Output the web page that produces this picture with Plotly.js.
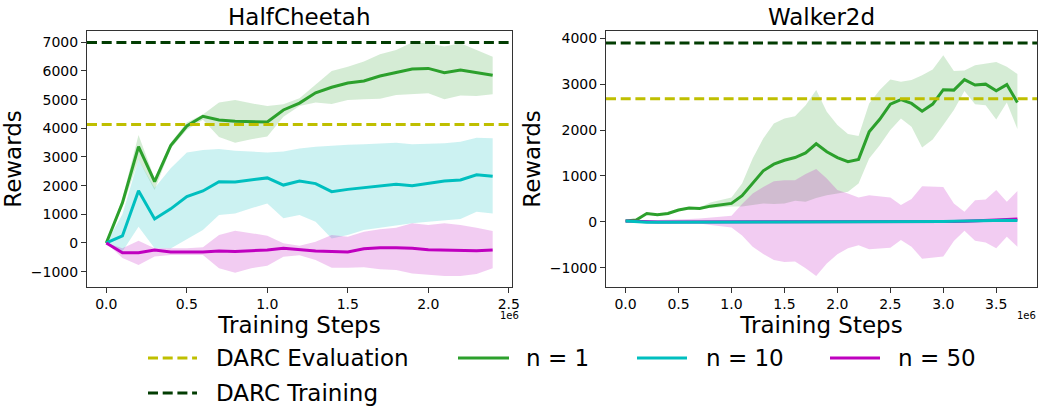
<!DOCTYPE html>
<html>
<head>
<meta charset="utf-8">
<script src="https://cdn.plot.ly/plotly-3.0.1.min.js"></script>
<style>html,body{margin:0;padding:0;background:#fff;}#chart{width:1038px;height:408px;}</style>
</head>
<body>
<div id="chart"></div>
<script>
// ---------- DATA ----------
// Training steps (x 1e6)
var hcSteps = [0.0, 0.1, 0.2, 0.3, 0.4, 0.5, 0.6, 0.7, 0.8, 0.9, 1.0, 1.1, 1.2, 1.3, 1.4, 1.5, 1.6, 1.7, 1.8, 1.9, 2.0, 2.1, 2.2, 2.3, 2.4];
var wkSteps = [0.0, 0.1, 0.2, 0.3, 0.4, 0.5, 0.6, 0.7, 0.8, 0.9, 1.0, 1.1, 1.2, 1.3, 1.4, 1.5, 1.6, 1.7, 1.8, 1.9, 2.0, 2.1, 2.2, 2.3, 2.4, 2.5, 2.6, 2.7, 2.8, 2.9, 3.0, 3.1, 3.2, 3.3, 3.4, 3.5, 3.6, 3.7];

// HalfCheetah
var hcN1   = [0, 1400, 3360, 2140, 3395, 4080, 4420, 4290, 4244, 4220, 4220, 4640, 4880, 5240, 5430, 5580, 5650, 5825, 5940, 6070, 6090, 5940, 6035, 5940, 5850];
var hcN1Hi = [0, 1550, 3770, 2250, 3500, 4200, 4480, 4900, 4990, 4870, 4780, 4840, 5050, 5510, 6000, 6150, 6330, 6580, 6730, 6990, 6965, 6850, 6965, 6730, 6500];
var hcN1Lo = [0, 1250, 2900, 1850, 3300, 3950, 4300, 3700, 3500, 3620, 3710, 4400, 4780, 4900, 4850, 4990, 5010, 5035, 5160, 5190, 5220, 5010, 5140, 5130, 5190];

var hcN10   = [0, 245, 1825, 840, 1190, 1620, 1815, 2140, 2130, 2200, 2270, 2020, 2160, 2070, 1790, 1870, 1930, 1990, 2050, 2000, 2090, 2160, 2200, 2380, 2330];
var hcN10Hi = [0, 1000, 2900, 1920, 2610, 3160, 3240, 3280, 3220, 3190, 3160, 3190, 3300, 3360, 3400, 3430, 3440, 3480, 3500, 3440, 3450, 3480, 3530, 3670, 3650];
var hcN10Lo = [0, -300, 570, -180, -190, 130, 450, 980, 1030, 1210, 1380, 860, 980, 745, 160, 280, 450, 535, 615, 685, 745, 800, 840, 1090, 1030];

var hcN50   = [0, -340, -340, -245, -315, -325, -315, -280, -300, -270, -245, -185, -245, -280, -300, -315, -200, -165, -165, -185, -235, -245, -270, -270, -245];
var hcN50Hi = [0, -180, 80, -180, -180, -180, -150, 280, 430, 340, 255, -10, -100, 45, 280, 220, 395, 475, 535, 685, 630, 685, 630, 535, 420];
var hcN50Lo = [0, -520, -770, -475, -420, -420, -420, -880, -1035, -880, -790, -480, -430, -590, -860, -860, -850, -920, -940, -1060, -1115, -1150, -1150, -1080, -880];

// Walker2d
var wkN1   = [15, 36, 180, 150, 180, 255, 300, 290, 340, 370, 400, 570, 835, 1110, 1255, 1340, 1400, 1500, 1700, 1525, 1400, 1310, 1360, 1960, 2235, 2565, 2665, 2580, 2410, 2565, 2880, 2870, 3100, 2980, 3000, 2855, 2990, 2600];
var wkN1Hi = [15, 45, 200, 170, 200, 275, 320, 310, 420, 470, 530, 835, 1380, 1815, 2140, 2250, 2300, 2540, 2870, 2400, 2110, 1915, 1870, 2580, 2870, 3100, 3050, 3090, 3195, 3320, 3630, 3285, 3300, 3410, 3450, 3485, 3380, 3220];
var wkN1Lo = [15, 28, 160, 130, 160, 235, 280, 275, 300, 320, 330, 330, 365, 400, 385, 400, 460, 435, 520, 580, 615, 655, 835, 1380, 1670, 2000, 2250, 2070, 1620, 1795, 2110, 2435, 2850, 2560, 2540, 2230, 2600, 2020];

var wkN10   = [15, -5, -10, -10, -8, -5, -5, -5, -5, -5, -5, -5, -5, -5, -5, -5, -8, -10, -10, -8, -5, -5, -5, 0, 0, 0, -5, -5, -5, 0, 5, 10, 15, 20, 25, 35, 30, 25];
var wkN10Hi = [15, 10, 5, 5, 8, 10, 10, 10, 10, 10, 10, 12, 15, 15, 15, 15, 12, 10, 10, 12, 15, 15, 15, 20, 20, 20, 15, 15, 15, 20, 25, 30, 35, 40, 45, 55, 50, 45];
var wkN10Lo = [15, -20, -25, -25, -23, -20, -20, -20, -20, -20, -20, -22, -25, -25, -25, -25, -28, -30, -30, -28, -25, -25, -25, -20, -20, -20, -25, -25, -25, -20, -15, -10, -5, 0, 5, 15, 10, 5];

var wkN50   = [15, 5, 0, -5, -5, -5, -5, -5, -5, -5, -5, -8, -10, -10, -10, -10, -10, -10, -10, -10, -10, -8, -5, -5, -5, -5, -5, -5, -5, -5, 0, 5, 10, 15, 25, 40, 50, 60];
var wkN50Hi = [15, 20, 30, 30, 40, 50, 60, 70, 90, 120, 130, 385, 615, 760, 885, 905, 905, 1040, 1150, 945, 690, 615, 530, 580, 560, 530, 365, 495, 775, 760, 760, 400, 220, 470, 485, 690, 435, 670];
var wkN50Lo = [15, -30, -30, -20, -20, -30, -30, -40, -70, -100, -125, -300, -545, -705, -835, -880, -865, -1015, -1185, -910, -710, -580, -510, -600, -580, -565, -400, -545, -805, -775, -760, -420, -195, -415, -450, -580, -325, -545];

// DARC reference levels [HalfCheetah, Walker2d]
var darcEval  = [4130, 2680];
var darcTrain = [6990, 3900];

// Labels
var envNames = ['HalfCheetah', 'Walker2d'];
var seriesNames = ['n = 1', 'n = 10', 'n = 50'];
var refNames = ['DARC Evaluation', 'DARC Training'];
var hcTickVals = [0, 0.5, 1.0, 1.5, 2.0, 2.5];
var hcTickText = ['0.0', '0.5', '1.0', '1.5', '2.0', '2.5'];
var wkTickVals = [0, 0.5, 1.0, 1.5, 2.0, 2.5, 3.0, 3.5];
var wkTickText = ['0.0', '0.5', '1.0', '1.5', '2.0', '2.5', '3.0', '3.5'];
var hcYVals = [-1000, 0, 1000, 2000, 3000, 4000, 5000, 6000, 7000];
var hcYText = ['\u22121000', '0', '1000', '2000', '3000', '4000', '5000', '6000', '7000'];
var wkYVals = [-1000, 0, 1000, 2000, 3000, 4000];
var wkYText = ['\u22121000', '0', '1000', '2000', '3000', '4000'];

// ---------- STYLE ----------
var colors = ['#2ca02c', '#00bfbf', '#bf00bf'];
var fills = ['rgba(44,160,44,0.2)', 'rgba(0,191,191,0.2)', 'rgba(191,0,191,0.2)'];
var evalColor = '#bfbf00';
var trainColor = '#023d02';
var FONT = 'DejaVu Sans';

var traces = [];
function addBand(x, hi, lo, fc, xa, ya) {
  traces.push({x: x, y: hi, type: 'scatter', mode: 'lines', line: {width: 0, color: fc}, xaxis: xa, yaxis: ya, showlegend: false, hoverinfo: 'skip'});
  traces.push({x: x, y: lo, type: 'scatter', mode: 'lines', line: {width: 0, color: fc}, fill: 'tonexty', fillcolor: fc, xaxis: xa, yaxis: ya, showlegend: false, hoverinfo: 'skip'});
}
function addLine(x, y, c, name, xa, ya) {
  traces.push({x: x, y: y, type: 'scatter', mode: 'lines', line: {width: 3, color: c}, name: name, xaxis: xa, yaxis: ya, showlegend: false});
}
var hcSets = [[hcN1, hcN1Hi, hcN1Lo], [hcN10, hcN10Hi, hcN10Lo], [hcN50, hcN50Hi, hcN50Lo]];
var wkSets = [[wkN1, wkN1Hi, wkN1Lo], [wkN10, wkN10Hi, wkN10Lo], [wkN50, wkN50Hi, wkN50Lo]];
for (var i = 0; i < 3; i++) addBand(hcSteps, hcSets[i][1], hcSets[i][2], fills[i], 'x', 'y');
for (var i = 0; i < 3; i++) addBand(wkSteps, wkSets[i][1], wkSets[i][2], fills[i], 'x2', 'y2');
for (var i = 0; i < 3; i++) addLine(hcSteps, hcSets[i][0], colors[i], seriesNames[i], 'x', 'y');
var wkOrder = [0, 2, 1];
for (var j = 0; j < 3; j++) { var i = wkOrder[j]; addLine(wkSteps, wkSets[i][0], colors[i], seriesNames[i], 'x2', 'y2'); }

// ---------- LAYOUT ----------
var L = 87, R = 1037, T = 31, B = 287, W = 1038, H = 408;
function px(x) { return (x - L) / (R - L); }
function py(y) { return (B - y) / (B - T); }

var shapes = [];
var axIds = [['x', 'y'], ['x2', 'y2']];
for (var k = 0; k < 2; k++) {
  shapes.push({type: 'line', xref: axIds[k][0] + ' domain', yref: axIds[k][1], x0: 0, x1: 1, y0: darcEval[k], y1: darcEval[k], line: {color: evalColor, width: 3, dash: '10px,4.7px'}, layer: 'above'});
  shapes.push({type: 'line', xref: axIds[k][0] + ' domain', yref: axIds[k][1], x0: 0, x1: 1, y0: darcTrain[k], y1: darcTrain[k], line: {color: trainColor, width: 3, dash: '10px,4.7px'}, layer: 'above'});
}

// legend (manual, matplotlib column-major layout)
var legItems = [
  {name: refNames[0], color: evalColor, dash: '10px,4.7px', x0: 148, x1: 197, tx: 214, y: 358},
  {name: refNames[1], color: trainColor, dash: '10px,4.7px', x0: 148, x1: 197, tx: 214, y: 393},
  {name: seriesNames[0], color: colors[0], dash: 'solid', x0: 458, x1: 509, tx: 524, y: 358},
  {name: seriesNames[1], color: colors[1], dash: 'solid', x0: 637, x1: 687, tx: 704, y: 358},
  {name: seriesNames[2], color: colors[2], dash: 'solid', x0: 830, x1: 880, tx: 896, y: 358}
];
var annotations = [];
legItems.forEach(function (it) {
  shapes.push({type: 'line', xref: 'paper', yref: 'paper', x0: px(it.x0), x1: px(it.x1), y0: py(it.y), y1: py(it.y), line: {color: it.color, width: 3, dash: it.dash}});
  annotations.push({xref: 'paper', yref: 'paper', x: px(it.tx), y: py(it.y), xanchor: 'left', yanchor: 'middle', text: it.name, showarrow: false, font: {family: FONT, size: 23, color: '#000'}});
});

// subplot titles
annotations.push({xref: 'paper', yref: 'paper', x: px(299.5), y: py(17), xanchor: 'center', yanchor: 'middle', text: envNames[0], showarrow: false, font: {family: FONT, size: 23, color: '#000'}});
annotations.push({xref: 'paper', yref: 'paper', x: px(821.5), y: py(17), xanchor: 'center', yanchor: 'middle', text: envNames[1], showarrow: false, font: {family: FONT, size: 23, color: '#000'}});
// offset texts
annotations.push({xref: 'paper', yref: 'paper', x: px(521), y: py(315), xanchor: 'right', yanchor: 'middle', text: '1e6', showarrow: false, font: {family: FONT, size: 10, color: '#000'}});
annotations.push({xref: 'paper', yref: 'paper', x: px(1038), y: py(315), xanchor: 'right', yanchor: 'middle', text: '1e6', showarrow: false, font: {family: FONT, size: 10, color: '#000'}});

var axBase = {
  showgrid: false, zeroline: false, showline: true, mirror: true, linecolor: '#333', linewidth: 1,
  ticks: 'outside', ticklen: 5, tickwidth: 1, tickcolor: '#333',
  tickfont: {family: FONT, size: 14, color: '#000'}, automargin: false
};
function ax(extra) { return Object.assign({}, axBase, extra); }

var layout = {
  width: W, height: H,
  margin: {l: L, r: W - R, t: T, b: H - B, pad: 0},
  paper_bgcolor: '#fff', plot_bgcolor: '#fff',
  font: {family: FONT, color: '#000'},
  showlegend: false,
  xaxis: ax({domain: [0, px(512)], range: [-0.12, 2.52], tickmode: 'array', tickvals: hcTickVals, ticktext: hcTickText, anchor: 'y', ticklabelstandoff: -1,
    title: {text: 'Training Steps', font: {family: FONT, size: 23, color: '#000'}, standoff: 0}}),
  yaxis: ax({domain: [0, 1], range: [-1535, 7394], tickmode: 'array', tickvals: hcYVals, ticktext: hcYText, anchor: 'x',
    title: {text: 'Rewards', font: {family: FONT, size: 23, color: '#000'}, standoff: 4}}),
  xaxis2: ax({domain: [px(606), 1], range: [-0.185, 3.885], tickmode: 'array', tickvals: wkTickVals, ticktext: wkTickText, anchor: 'y2', ticklabelstandoff: -1,
    title: {text: 'Training Steps', font: {family: FONT, size: 23, color: '#000'}, standoff: 0}}),
  yaxis2: ax({domain: [0, 1], range: [-1423, 4159], tickmode: 'array', tickvals: wkYVals, ticktext: wkYText, anchor: 'x2',
    title: {text: 'Rewards', font: {family: FONT, size: 23, color: '#000'}, standoff: 2}}),
  shapes: shapes,
  annotations: annotations
};

Plotly.newPlot('chart', traces, layout, {staticPlot: true, displayModeBar: false});
</script>
</body>
</html>
